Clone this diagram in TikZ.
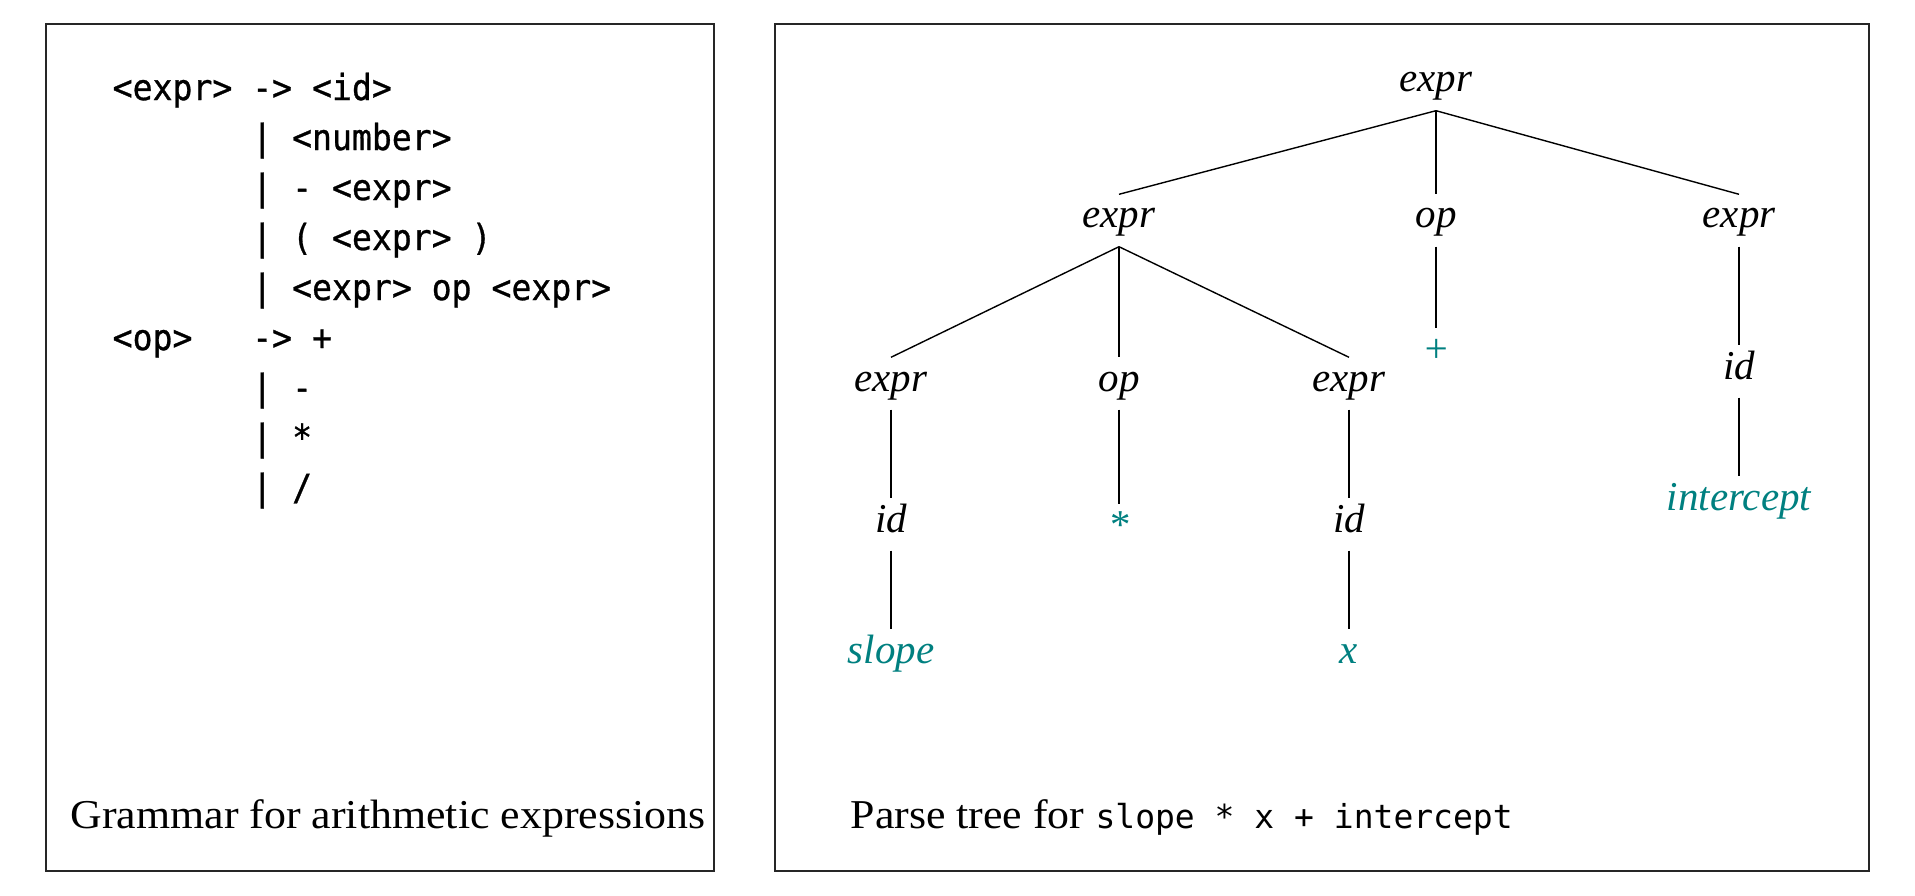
\documentclass[tikz,border=0pt]{standalone}
\usepackage{fontspec}
\setmainfont{Liberation Serif}[FakeStretch=1.07]
\newfontfamily\treefont{Liberation Serif}
\setmonofont{DejaVu Sans Mono}
\newfontfamily\gramfont{DejaVu Sans Mono}[FakeStretch=0.92,FakeBold=0.8]
\usetikzlibrary{positioning}
\definecolor{leafteal}{RGB}{0,128,128}
\newcommand\gind{\hphantom{<expr>~}}
\newcommand\codetxt[1]{{\ttfamily\fontsize{33}{49}\selectfont #1}}
\tikzset{
  panel/.style={draw=black!85,line width=2pt},
  tnode/.style={font=\treefont\itshape\fontsize{41}{49}\selectfont,
    inner sep=7pt,text height=26pt,text depth=11pt,anchor=base},
  leaf/.style={tnode,text=leafteal},
  capt/.style={font=\fontsize{41}{49}\selectfont,inner sep=0pt,anchor=base west},
  gram/.style={font=\gramfont\fontsize{36}{50}\selectfont,align=left,
    inner sep=0pt,anchor=north west},
}

\begin{document}
\begin{tikzpicture}[x=1pt,y=-1pt,line width=1.4pt]
  \useasboundingbox (0,0) rectangle (1915,896);

  % frames
  \draw[panel] (46,24) rectangle (714,871);
  \draw[panel] (775,24) rectangle (1869,871);

  % grammar
  \node[gram] (gram) at (112,72) {<expr>~->~<id>\\
    \gind|~<number>\\
    \gind|~-~<expr>\\
    \gind|~(~<expr>~)\\
    \gind|~<expr>~op~<expr>\\
    <op>~~~->~+\\
    \gind|~-\\
    \gind|~*\\
    \gind|~/};
  \node[capt] (gcap) at (70,828) {Grammar for arithmetic expressions};

  % parse tree
  \node[tnode] (e1) at (1436,92) {expr};
  \node[tnode] (e2) at ([shift={(-317,136)}]e1.base) {expr};
  \node[tnode] (o2) at ([shift={(0,136)}]e1.base)    {op};
  \node[tnode] (e3) at ([shift={(303,136)}]e1.base)  {expr};

  \node[tnode] (e4) at ([shift={(-228,163)}]e2.base) {expr};
  \node[tnode] (o4) at ([shift={(0,163)}]e2.base)    {op};
  \node[tnode] (e5) at ([shift={(230,163)}]e2.base)  {expr};
  \node[leaf]  (plus) at ([shift={(0,134)}]o2.base)  {+};
  \node[tnode] (i3) at ([shift={(0,151)}]e3.base)    {id};

  \node[tnode] (i4) at ([shift={(0,141)}]e4.base)    {id};
  \node[leaf]  (star) at ([shift={(0,147)}]o4.base)  {*};
  \node[tnode] (i5) at ([shift={(0,141)}]e5.base)    {id};
  \node[leaf]  (icpt) at ([shift={(0,131)}]i3.base)  {intercept};

  \node[leaf]  (slope) at ([shift={(0,131)}]i4.base) {slope};
  \node[leaf]  (xv) at ([shift={(0,131)}]i5.base)    {x};

  \path (e1.south) edge (e2.north)
        (e1.south) edge (o2.north)
        (e1.south) edge (e3.north);

  \path (e2.south) edge (e4.north)
        (e2.south) edge (o4.north)
        (e2.south) edge (e5.north);

  \path (o2.south) edge (plus.north)
        (e3.south) edge (i3.north)
        (i3.south) edge (icpt.north);

  \path (e4.south) edge (i4.north)
        (i4.south) edge (slope.north)
        (o4.south) edge (star.north)
        (e5.south) edge (i5.north)
        (i5.south) edge (xv.north);

  \node[capt] (pcap) at (850,828) {Parse tree for \codetxt{slope * x + intercept}};
\end{tikzpicture}
\end{document}
